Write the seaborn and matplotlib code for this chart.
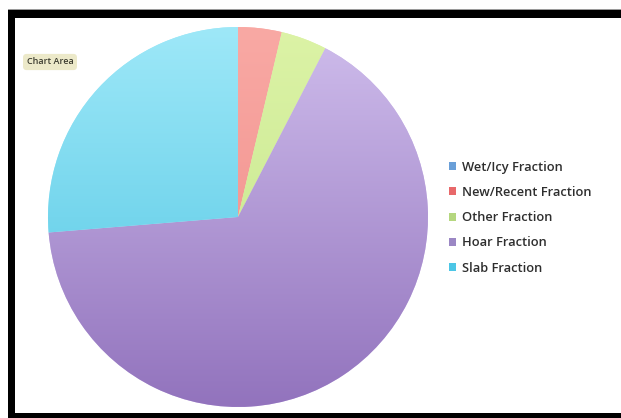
import numpy as np
import matplotlib
matplotlib.use("Agg")
import matplotlib.pyplot as plt
from matplotlib.patches import Rectangle, Patch
from matplotlib.colors import LinearSegmentedColormap
import seaborn as sns

# ---- data ----
categories = ["Wet/Icy Fraction", "New/Recent Fraction", "Other Fraction", "Hoar Fraction", "Slab Fraction"]
values = [0.0, 3.7, 3.9, 66.1, 26.3]
legend_colors = ["#6a9fd8", "#e8686a", "#b5d77f", "#9b87c4", "#4cc6e6"]
pie_top_colors = ["#8fbbe8", "#f9a9a4", "#dcf3a6", "#cfbdec", "#9ee8f8"]
pie_bottom_colors = ["#5b8fd0", "#ee8a86", "#c2e48a", "#9273bd", "#4cc4e2"]

sns.set_theme(style="white")
plt.rcParams['font.family'] = ['Open Sans', 'DejaVu Sans']

W, H = 621, 418
fig = plt.figure(figsize=(W / 100, H / 100), dpi=100)
fig.patch.set_facecolor("white")

# frame
def frect(x0, y0, x1, y1, color):
    fig.add_artist(Rectangle((x0 / W, 1 - y1 / H), (x1 - x0) / W, (y1 - y0) / H,
                             transform=fig.transFigure, facecolor=color, edgecolor="none", zorder=0))

frect(8, 9, W, 10, "#9a9a9a")
frect(8, 10, W, 17.5, "black")
frect(8, 10, 15, H, "black")
frect(8, 413, W, H, "black")

# pie axes
cx, cy, r = 238, 217, 190
ax = fig.add_axes([(cx - r) / W, 1 - (cy + r) / H, 2 * r / W, 2 * r / H])
ax.set_xlim(-1, 1)
ax.set_ylim(-1, 1)
ax.set_aspect("equal")
ax.axis("off")

wedges, _ = ax.pie(values, colors=pie_top_colors, startangle=90, counterclock=False,
                   radius=1, wedgeprops=dict(linewidth=0))
ax.set_xlim(-1, 1)
ax.set_ylim(-1, 1)

grad = np.linspace(0, 1, 256).reshape(-1, 1)
for w, ctop, cbot in zip(wedges, pie_top_colors, pie_bottom_colors):
    cmap = LinearSegmentedColormap.from_list("g", [cbot, ctop])
    im = ax.imshow(grad, cmap=cmap, extent=[-1, 1, -1, 1], origin="lower",
                   aspect="auto", zorder=2, interpolation="bilinear")
    im.set_clip_path(w)

# legend
handles = [Patch(facecolor=c, edgecolor="none") for c in legend_colors]
fig.legend(handles, categories, loc="upper left",
           bbox_to_anchor=(437 / W, 1 - 149 / H), frameon=False,
           prop=dict(family=['Open Sans', 'DejaVu Sans'], size=9.3, weight=600),
           handlelength=0.6, handleheight=0.6, handletextpad=0.45,
           labelspacing=0.95, labelcolor="#2e2e2e")

# Chart Area tag
fig.text(50 / W, 1 - 62 / H, "Chart Area", fontsize=6.5, color="#3c3c30",
         ha="center", va="center", weight=600,
         bbox=dict(boxstyle="round,pad=0.4", facecolor="#ece9c9", edgecolor="none"))

fig.savefig("out.png", dpi=100)
